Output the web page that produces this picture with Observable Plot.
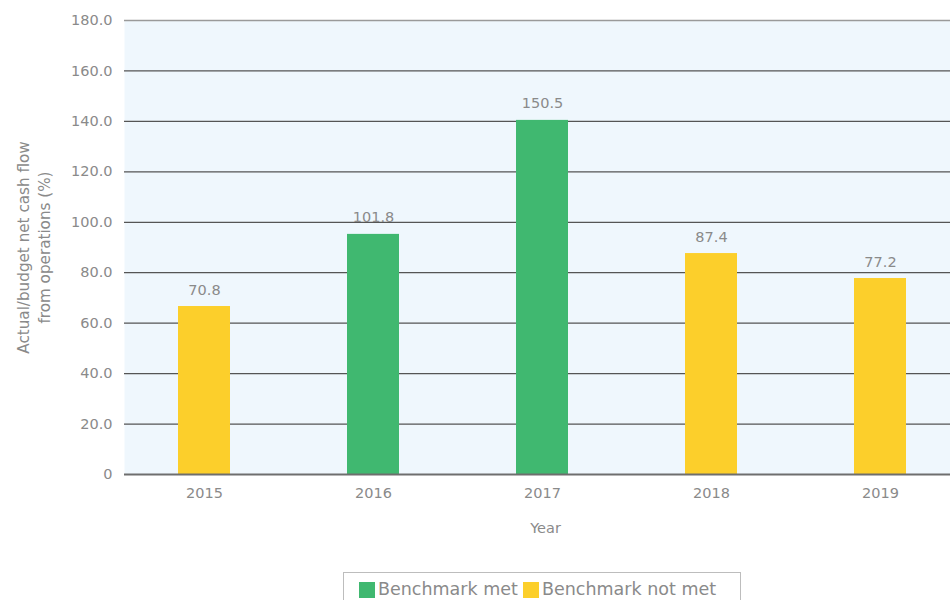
<!DOCTYPE html>
<html>
<head>
<meta charset="utf-8">
<script src="https://cdn.jsdelivr.net/npm/d3@7"></script>
<script src="https://cdn.jsdelivr.net/npm/@observablehq/plot@0.6"></script>
<style>
  html, body { margin: 0; padding: 0; background: #fff; overflow: hidden; }
  #wrap { position: relative; width: 950px; height: 600px; font-family: "DejaVu Sans", sans-serif; }
  #legend {
    position: absolute; left: 343px; top: 572px; width: 398px; height: 40px;
    border: 1px solid #bdbdbd; box-sizing: border-box;
    display: flex; align-items: flex-start; padding: 6px 0 0 15px;
    font-size: 17.5px; color: #8a8a8a; white-space: nowrap;
  }
  #legend .sw { display: inline-block; width: 16px; height: 16px; margin-top: 3px; margin-right: 3px; }
  #legend .item { display: flex; align-items: flex-start; margin-right: 5px; }
</style>
</head>
<body>
<div id="wrap"></div>
<script>
const years = ["2015", "2016", "2017", "2018", "2019"];
const barValues = [66.6, 95.2, 140.4, 87.6, 77.7];
const labelValues = ["70.8", "101.8", "150.5", "87.4", "77.2"];
const status = ["Benchmark not met", "Benchmark met", "Benchmark met", "Benchmark not met", "Benchmark not met"];
const statusDomain = ["Benchmark met", "Benchmark not met"];
const statusColors = ["#40b870", "#fccf2b"];
const yTicks = [0, 20, 40, 60, 80, 100, 120, 140, 160, 180];
const yLabel = "Actual/budget net cash flow\nfrom operations (%)";
const xLabel = "Year";

const data = years.map((y, i) => ({year: y, value: barValues[i], label: labelValues[i], status: status[i]}));
const gray = "#8a8a8a";

const chart = Plot.plot({
  width: 950,
  height: 560,
  marginLeft: 124,
  marginRight: 0,
  marginTop: 20,
  marginBottom: 86,
  style: {fontFamily: "DejaVu Sans, sans-serif", fontSize: "14.5px", color: gray, background: "transparent"},
  x: {domain: years, range: [124, 961], paddingInner: 0.69, paddingOuter: 0.32, align: 0.5, label: null},
  y: {domain: [0, 180], label: null},
  color: {domain: statusDomain, range: statusColors},
  marks: [
    Plot.frame({fill: "#eff7fd", stroke: null}),
    Plot.ruleY(yTicks.slice(1, -1), {stroke: "#555", strokeWidth: 1.2}),
    Plot.ruleY([180], {stroke: "#9a9a9a", strokeWidth: 1.5}),
    Plot.barY(data, {x: "year", y: "value", fill: "status"}),
    Plot.ruleY([0], {stroke: "#6e6e6e", strokeWidth: 2}),
    Plot.ruleX([0], {x: () => 0, stroke: "#6e6e6e", strokeWidth: 2, frameAnchor: "left"}),
    Plot.text(data, {x: "year", y: "value", text: "label", dy: -12, lineAnchor: "bottom", fill: gray, fontSize: 14.5}),
    Plot.axisY(yTicks, {tickSize: 0, tickPadding: 12, tickFormat: d => d === 0 ? "0" : d.toFixed(1), label: null, fill: gray, fontSize: 14.5}),
    Plot.axisX({tickSize: 0, tickPadding: 13, label: null, fill: gray, fontSize: 14.5}),
    Plot.text([yLabel], {frameAnchor: "left", dx: -92, rotate: -90, textAnchor: "middle", lineAnchor: "middle", lineHeight: 1.4, fill: gray, fontSize: 15.2}),
    Plot.text([xLabel], {frameAnchor: "bottom", dx: 8, dy: 58, fill: gray, fontSize: 14.5})
  ]
});

document.getElementById("wrap").appendChild(chart);

const legend = document.createElement("div");
legend.id = "legend";
statusDomain.forEach((s, i) => {
  const item = document.createElement("span");
  item.className = "item";
  const sw = document.createElement("span");
  sw.className = "sw";
  sw.style.background = statusColors[i];
  item.appendChild(sw);
  item.appendChild(document.createTextNode(s));
  legend.appendChild(item);
});
document.getElementById("wrap").appendChild(legend);
</script>
</body>
</html>
